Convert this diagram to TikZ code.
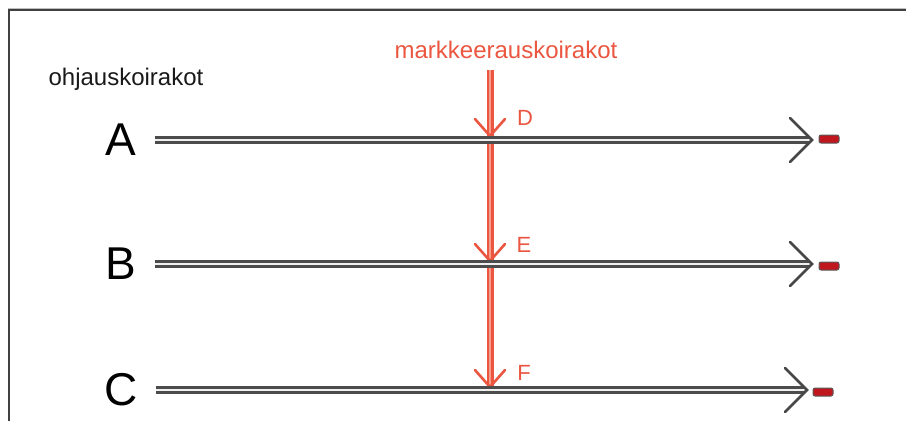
\documentclass[tikz,border=0pt]{standalone}
\usepackage{fontspec}
\setmainfont{Liberation Sans}
\usepackage{tikz}
\usetikzlibrary{arrows}

\definecolor{markred}{RGB}{234,86,64}
\definecolor{markpink}{RGB}{246,158,140}
\definecolor{plugred}{RGB}{192,22,30}

\begin{document}
\begin{tikzpicture}[x=1pt,y=-1pt,
    letter/.style={inner sep=0pt,font=\fontsize{46}{46}\selectfont},
    title/.style={inner sep=0pt,font=\fontsize{24}{28}\selectfont},
    marklabel/.style={inner sep=0pt,text=markred,font=\fontsize{22}{24}\selectfont},
    rail/.style={draw=black!70,line width=2.8pt,double=black!6,double distance=1.9pt},
    railtip/.style={draw=black!72,line width=2.8pt,line cap=round},
    markline/.style={draw=markred,line width=2.4pt,double=markpink,double distance=2.2pt},
    marktip/.style={draw=markred,line width=2.6pt,line cap=round},
    plug/.style={rectangle,rounded corners=2pt,fill=plugred,draw=black!65,line width=1pt,
                 minimum width=20pt,minimum height=8pt,inner sep=0pt}]

  \useasboundingbox (0,0) rectangle (906,421);

  %Frame%
  \draw[black!25,line width=1pt] (8,8.3) -- (906,8.3);
  \draw[black!75,line width=1.6pt] (9,421) -- (9,10) -- (906,10);

  %Titles%
  \node[title,text=black!90] (ohj) at (126,79) {ohjauskoirakot};
  \node[title,text=markred] (mark) at (506,50) {markkeerauskoirakot};

  %Rows%
  \node[letter] (A) at (121,140) {A};
  \node[letter] (B) at (121,264) {B};
  \node[letter] (C) at (121,390) {C};
  \coordinate (tA) at (812,140);
  \coordinate (tB) at (812,264);
  \coordinate (tC) at (807,390);
  \node[plug] (pA) at (829,139) {};
  \node[plug] (pB) at (829,266) {};
  \node[plug] (pC) at (823,392) {};

  %Marking line%
  \coordinate (mtop) at (490,70);
  \coordinate (mA) at (490,136);
  \coordinate (mB) at (490,261);
  \coordinate (mC) at (490,387);
  \node[marklabel] (D) at (525,118) {D};
  \node[marklabel] (E) at (524,245) {E};
  \node[marklabel] (F) at (524,373) {F};

  \draw[markline] (mtop) -- (mA);
  \draw[markline] (mA) -- (mB);
  \draw[markline] (mB) -- (mC);
  \draw[marktip] (mA) ++(-15,-17) -- (mA) -- ++(15,-17);
  \draw[marktip] (mB) ++(-15,-17) -- (mB) -- ++(15,-17);
  \draw[marktip] (mC) ++(-15,-17) -- (mC) -- ++(15,-17);

  \draw[rail,shorten <=18pt,shorten >=2pt] (A.east) -- (tA);
  \draw[rail,shorten <=18pt,shorten >=2pt] (B.east) -- (tB);
  \draw[rail,shorten <=18pt,shorten >=2pt] (C.east) -- (tC);
  \draw[railtip] (tA) ++(-22,-22) -- (tA) -- ++(-22,22);
  \draw[railtip] (tB) ++(-22,-22) -- (tB) -- ++(-22,22);
  \draw[railtip] (tC) ++(-22,-22) -- (tC) -- ++(-22,22);
\end{tikzpicture}
\end{document}
